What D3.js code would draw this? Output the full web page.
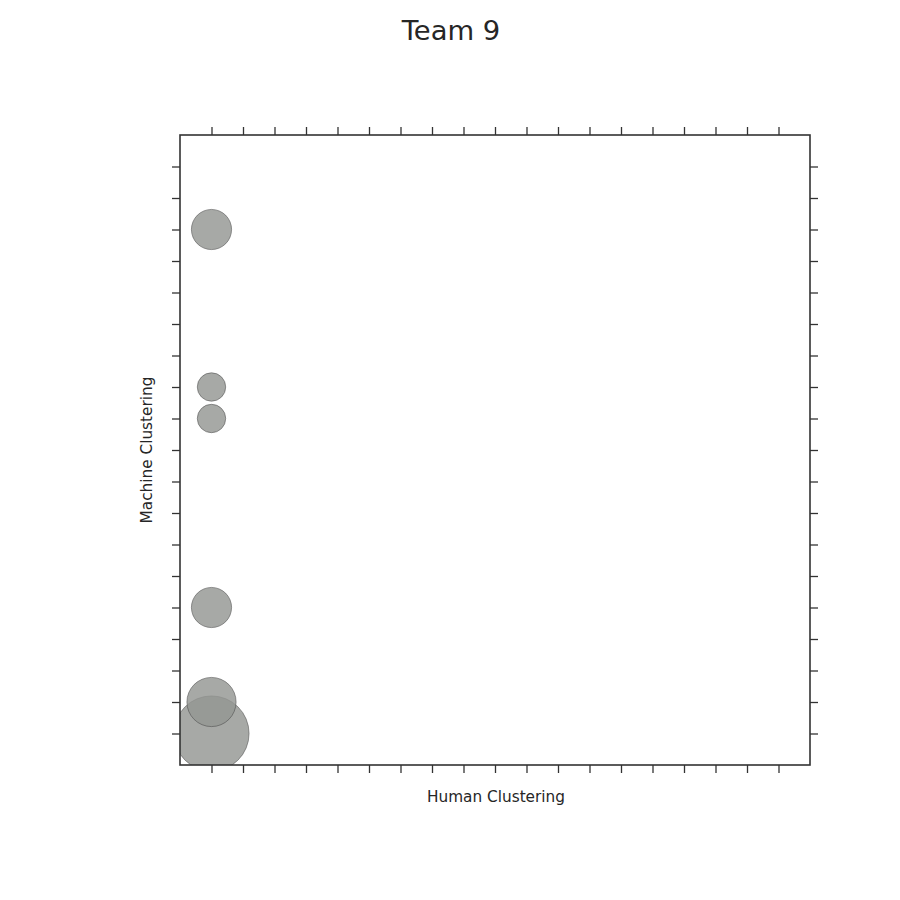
<!DOCTYPE html>
<html>
<head>
<meta charset="utf-8">
<script src="https://cdn.jsdelivr.net/npm/d3@7"></script>
<style>
body { margin: 0; background: #fff; }
svg { display: block; font-family: "DejaVu Sans", sans-serif; }
</style>
</head>
<body>
<svg id="chart" width="900" height="900"></svg>
<script>
const title = "Team 9";
const xLabel = "Human Clustering";
const yLabel = "Machine Clustering";
const humanCluster = [1, 1, 1, 1, 1, 1];
const machineCluster = [17, 12, 11, 5, 2, 1];
const counts = [2, 1, 1, 2, 3, 7];
const tickValues = d3.range(1, 20);

(function () {
const svg = d3.select("#chart");
const pL = 180, pR = 810, pT = 135, pB = 765;

const x = d3.scaleLinear().domain([0, 20]).range([pL, pR]);
const y = d3.scaleLinear().domain([0, 20]).range([pB, pT]);
const r = d3.scaleSqrt().domain([0, 1]).range([0, 14.2]);

svg.append("defs").append("clipPath").attr("id", "clip")
  .append("rect").attr("x", pL).attr("y", pT)
  .attr("width", pR - pL).attr("height", pB - pT);

const data = humanCluster.map((h, i) => ({ h, m: machineCluster[i], n: counts[i] }));
const pts = svg.append("g").attr("clip-path", "url(#clip)");
pts.selectAll("circle").data(data.slice().sort((a, b) => b.n - a.n)).join("circle")
  .attr("cx", d => x(d.h))
  .attr("cy", d => y(d.m))
  .attr("r", d => r(d.n))
  .attr("fill", "rgb(148,150,146)")
  .attr("fill-opacity", 0.82)
  .attr("stroke", "#444")
  .attr("stroke-opacity", 0.85)
  .attr("stroke-width", 0.6);

function styleAxis(g) {
  g.selectAll(".domain").remove();
  g.selectAll("text").remove();
  g.selectAll(".tick line").attr("stroke", "#333").attr("stroke-width", 1.3);
}
svg.append("g").attr("transform", `translate(0,${pB})`)
  .call(d3.axisBottom(x).tickValues(tickValues).tickSize(8)).call(styleAxis);
svg.append("g").attr("transform", `translate(0,${pT})`)
  .call(d3.axisTop(x).tickValues(tickValues).tickSize(8)).call(styleAxis);
svg.append("g").attr("transform", `translate(${pL},0)`)
  .call(d3.axisLeft(y).tickValues(tickValues).tickSize(8)).call(styleAxis);
svg.append("g").attr("transform", `translate(${pR},0)`)
  .call(d3.axisRight(y).tickValues(tickValues).tickSize(8)).call(styleAxis);

svg.append("rect").attr("x", pL).attr("y", pT)
  .attr("width", pR - pL).attr("height", pB - pT)
  .attr("fill", "none").attr("stroke", "#333").attr("stroke-width", 1.6);

svg.append("text").attr("x", 451).attr("y", 40).attr("text-anchor", "middle")
  .attr("font-size", 27.4).attr("fill", "#262626").text(title);
svg.append("text").attr("x", 496).attr("y", 802).attr("text-anchor", "middle")
  .attr("font-size", 15.3).attr("fill", "#262626").text(xLabel);
svg.append("text").attr("transform", `translate(152,450) rotate(-90)`)
  .attr("text-anchor", "middle").attr("font-size", 15.3).attr("fill", "#262626").text(yLabel);
})();
</script>
</body>
</html>
